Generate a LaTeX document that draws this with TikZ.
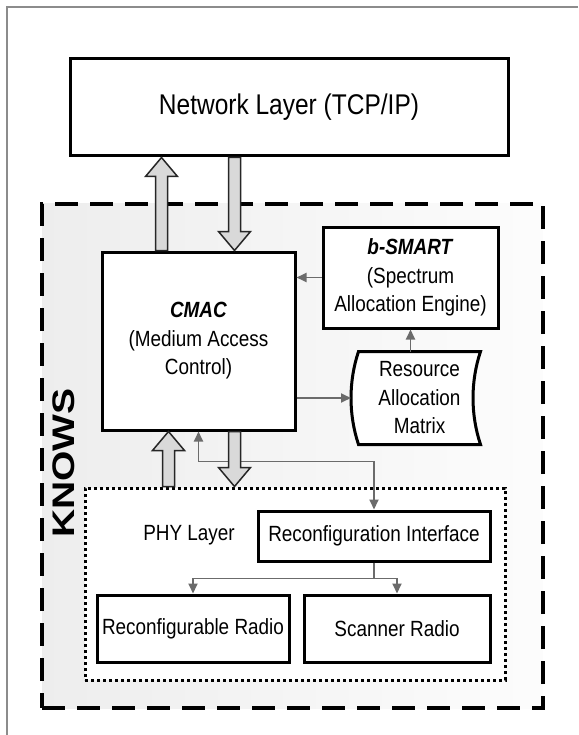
\documentclass[tikz,border=0pt]{standalone}
\usepackage{graphicx}
\usepackage{fontspec}
\setmainfont{Liberation Sans}[FakeStretch=0.86]
\newfontfamily\knowsfont{Liberation Sans}
\usetikzlibrary{arrows.meta,calc}

% wide hollow arrow between two points on one vertical line
\newcommand{\fatarrow}[2]{%
  \draw[fatarrow] let \p1=(#1), \p2=(#2), \n1={ifthenelse(\y2>\y1,1,-1)} in
    ({\x1-6pt},\y1) -- ({\x1-6pt},{\y2-(\n1)*19pt}) -- ({\x1-16pt},{\y2-(\n1)*19pt}) -- (\x1,\y2)
    -- ({\x1+16pt},{\y2-(\n1)*19pt}) -- ({\x1+6pt},{\y2-(\n1)*19pt}) -- ({\x1+6pt},\y1) -- cycle;}

\begin{document}
\begin{tikzpicture}[x=1pt,y=-1pt,>={Triangle[length=10pt,width=9pt]},
	box/.style={draw,line width=3pt,fill=white,align=center,inner sep=2pt,font=\fontsize{22}{28.5}\selectfont},
	link/.style={draw=black!58,line width=1.8pt},
	fatarrow/.style={draw=black!85,line width=1.5pt,fill=black!15,line join=miter},
	knowsbox/.style={draw,line width=3.6pt,dash pattern=on 23pt off 12pt,left color=black!7,right color=black!1},
	phybox/.style={draw,line width=3pt,dash pattern=on 3pt off 3pt,fill=white}]

\useasboundingbox (0,0) rectangle (578,735);
\draw[black!45,line width=1.5pt] (578,7) -| (7,735);

\node[knowsbox,minimum width=501,minimum height=504] (knows) at (292.5,456) {};
\node[font=\knowsfont\bfseries\fontsize{39}{39}\selectfont] (knowslabel) at (64,463) {\scalebox{0.8}[1]{\rotatebox{90}{KNOWS}}};

\node[box,minimum width=438,minimum height=97,font=\fontsize{28.5}{34}\selectfont] (net) at (289,107.5) {Network Layer (TCP/IP)};
\node[box,minimum width=193,minimum height=178] (cmac) at (198.5,341) {\textbf{\textit{CMAC}}\\(Medium Access\\Control)};
\node[box,minimum width=175,minimum height=101] (bsmart) at (410.5,277.5) {\textbf{\textit{b-SMART}}\\(Spectrum\\Allocation Engine)};

\node[minimum width=119,minimum height=90,inner sep=0pt,outer sep=1.5pt] (ram) at (419.5,398) {};
\draw[line width=3pt,fill=white,line join=miter] (ram.north west) .. controls +(-10,30) and +(-10,-30) .. (ram.south west)
    -- (ram.south east) .. controls +(-10,-30) and +(-10,30) .. (ram.north east) -- cycle;
\node[box,draw=none,fill=none] (ramtext) at (ram.center) {Resource\\Allocation\\Matrix};

\node[phybox,minimum width=420,minimum height=192] (phy) at (295,584) {};
\node[font=\fontsize{22}{28}\selectfont] (phylabel) at (189,535) {PHY Layer};
\node[box,minimum width=232,minimum height=50] (reconf) at (374,536) {Reconfiguration Interface};
\node[box,minimum width=192,minimum height=67] (rradio) at (193,628.5) {Reconfigurable Radio};
\node[box,minimum width=186,minimum height=67] (sradio) at (397,628.5) {Scanner Radio};

\draw[link,->] (bsmart.west) -- (bsmart.west -| cmac.east);
\draw[link,->] (ram.north -| bsmart.south) -- (bsmart.south);
\draw[link,->] (cmac.east |- ram.west) -- ([xshift=-7.5pt]ram.west);
\draw[link,<->] (cmac.south) -- ++(0,30) -| (reconf.north);
\draw[link,->] (reconf.south) -- ++(0,16) -| (rradio.north);
\draw[link,->] (reconf.south) ++(0,16) -| (sradio.north);

\coordinate (upn) at ([xshift=61pt]cmac.north west);
\coordinate (dnn) at ([xshift=134pt]cmac.north west);
\coordinate (ups) at ([xshift=68pt]cmac.south west);
\coordinate (dns) at ([xshift=134pt]cmac.south west);
\fatarrow{upn}{net.south}
\fatarrow{net.south -| dnn}{dnn}
\fatarrow{phy.north -| ups}{ups}
\fatarrow{dns}{phy.north -| dns}
\end{tikzpicture}
\end{document}
